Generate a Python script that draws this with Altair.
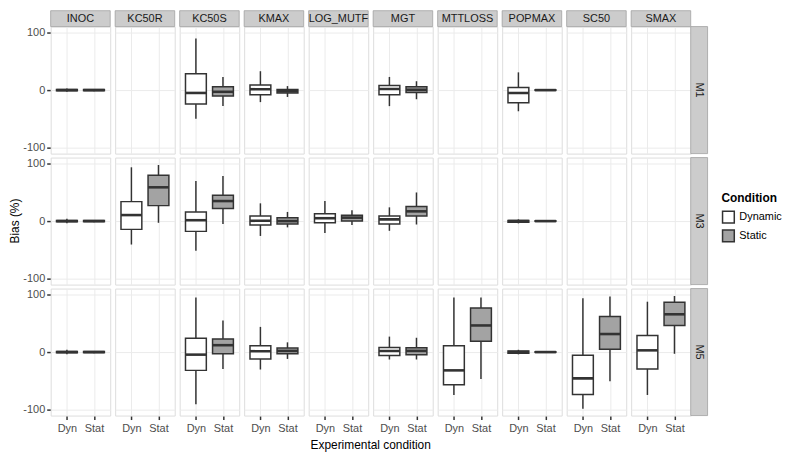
import altair as alt
import pandas as pd

variables = ["INOC", "KC50R", "KC50S", "KMAX", "LOG_MUTF", "MGT", "MTTLOSS", "POPMAX", "SC50", "SMAX"]
models = ["M1", "M3", "M5"]
conditions = ["Dynamic", "Static"]
tick_labels = ["Dyn", "Stat"]
x_title = "Experimental condition"
y_title = "Bias (%)"

box_model = (["M1"] * 10) + (["M3"] * 14) + (["M5"] * 16)
box_var = [
    "INOC", "INOC", "KC50S", "KC50S", "KMAX", "KMAX", "MGT", "MGT", "POPMAX", "POPMAX",
    "INOC", "INOC", "KC50R", "KC50R", "KC50S", "KC50S", "KMAX", "KMAX", "LOG_MUTF", "LOG_MUTF",
    "MGT", "MGT", "POPMAX", "POPMAX",
    "INOC", "INOC", "KC50S", "KC50S", "KMAX", "KMAX", "MGT", "MGT", "MTTLOSS", "MTTLOSS",
    "POPMAX", "POPMAX", "SC50", "SC50", "SMAX", "SMAX",
]
box_cond = ["Dynamic", "Static"] * 20
whisker_lo = [-3, -2, -50, -28, -21, -12, -28, -16, -37, -1,
              -4, -2, -41, -3, -52, -5, -26, -11, -21, -7, -17, -6, -4, -1,
              -4, -2, -91, -29.5, -30.5, -12, -13, -13, -75, -47, -4, -1, -99, -51, -75, -3]
box_q1 = [-1, -1, -24.5, -10.5, -8, -5, -8, -4, -22, -0.5,
          -1, -1, -14.5, 27, -18, 22, -7, -5, -3, 0, -5, 9, -2, -0.5,
          -1, -1, -32, -3, -12, -3, -6, -4.5, -57, 19, -2, -0.5, -74, 5, -29.5, 46.5]
box_med = [0, 0, -5, -3, 1.5, -2, 2, 0.5, -5, 0,
           0, 0, 10.5, 59, 1.5, 35, 0.5, 0, 5, 6, 3, 17, 0, 0,
           0, 0, -4.5, 12, 1.5, 2, 2, 2, -32, 46.5, 0, 0, -46, 31.5, 3, 66]
box_q3 = [1, 1, 28.5, 6, 9, 1, 8, 6, 4.5, 0.5,
          1, 1, 34, 80, 16, 45, 9, 6, 13, 10, 9, 25.5, 1, 0.5,
          1, 1, 24, 23, 11, 7, 8, 7.5, 11, 77, 2, 0.5, -5.5, 62, 29, 87]
whisker_hi = [3, 2, 90, 23, 33, 7, 23, 15.5, 31, 1,
              4, 2, 94, 98, 70, 79, 31, 16, 35, 19, 24, 50, 3, 1,
              4, 2, 95.5, 55, 44, 17, 27, 25, 95.5, 95.5, 4, 1, 94, 97, 88, 98]

W, H = 60, 128
STRIP = 16
COL_GAP = 5
ROW_GAP = 4
FONT = "Liberation Sans"

rows = []
for m, v, c, lo, q1, md, q3, hi in zip(box_model, box_var, box_cond, whisker_lo,
                                       box_q1, box_med, box_q3, whisker_hi):
    rows.append(dict(kind="box", model=m, var=v, cond=c,
                     pos=conditions.index(c) + 1, lo=lo, q1=q1, med=md, q3=q3, hi=hi))
for m in models:
    for v in variables:
        rows.append(dict(kind="cell", model=m, var=v))
for v in variables:
    rows.append(dict(kind="cstrip", model=models[0], var=v))
for m in models:
    rows.append(dict(kind="rstrip", model=m, var=variables[-1]))
rows.append(dict(kind="ytitle", model=models[1], var=variables[0], label=y_title))
rows.append(dict(kind="xtitle", model=models[2], var=variables[4], label=x_title))
df = pd.DataFrame(rows)

major = "datum.value % 50 === 0"
xscale = alt.Scale(domain=[0.4, 2.6], nice=False, zero=False, padding=0)
yscale = alt.Scale(domain=[-111, 111], nice=False, zero=False, padding=0)

xaxis = alt.Axis(
    values=[1, 2],
    labelExpr="datum.value == 1 ? '" + tick_labels[0] + "' : '" + tick_labels[1] + "'",
    title=None, domain=False, tickColor="#333333", tickSize=4,
    tickWidth=1.5, labelColor="#4D4D4D", labelFontSize=11, gridColor="#EBEBEB",
    labelPadding=3, labelFont=FONT,
)
yaxis = alt.Axis(
    values=[-100, -75, -50, -25, 0, 25, 50, 75, 100],
    labelExpr=major + " ? '' + datum.value : ''",
    title=None, domain=False, tickColor="#333333", tickSize=4, tickWidth=1.5,
    tickOpacity={"condition": {"test": major, "value": 1}, "value": 0},
    gridColor={"condition": {"test": major, "value": "#EBEBEB"}, "value": "#F7F7F7"},
    labelColor="#4D4D4D", labelFontSize=11, labelPadding=2, labelFont=FONT, minExtent=0,
)

base = alt.Chart()
boxes = base.transform_filter("datum.kind == 'box'")

whisk = boxes.mark_rule(color="#333333", strokeWidth=1.5).encode(
    x=alt.X("pos:Q", scale=xscale, axis=xaxis),
    y=alt.Y("lo:Q", scale=yscale, axis=yaxis),
    y2="hi:Q",
)
box = boxes.mark_bar(size=21, stroke="#333333", strokeWidth=1.5, opacity=1).encode(
    x="pos:Q",
    y="q1:Q",
    y2="q3:Q",
    fill=alt.Fill(
        "cond:N",
        scale=alt.Scale(domain=conditions, range=["#FFFFFF", "#A3A3A3"]),
        legend=alt.Legend(
            title="Condition", titleFontWeight="bold", titleFontSize=12, labelFontSize=11,
            symbolType="square", symbolSize=140, symbolStrokeColor="#333333",
            symbolStrokeWidth=1.5, labelColor="#000000", titleColor="#000000",
            orient="none", legendX=676, legendY=168, rowPadding=1, titlePadding=5,
            labelOffset=4, labelFont=FONT, titleFont=FONT,
        ),
    ),
)
med = boxes.mark_tick(orient="horizontal", size=21, thickness=2.6, color="#333333", opacity=1).encode(
    x="pos:Q",
    y="med:Q",
)

cs = base.transform_filter("datum.kind == 'cstrip'")
cs_rect = cs.mark_rect(fill="#CCCCCC", stroke="#A0A0A0", strokeWidth=0.8).encode(
    x=alt.value(0), x2=alt.value(W), y=alt.value(-STRIP), y2=alt.value(0)
)
cs_text = cs.mark_text(fontSize=11, color="#1A1A1A", baseline="middle", font=FONT).encode(
    text="var:N", x=alt.value(W / 2), y=alt.value(-STRIP / 2)
)
rs = base.transform_filter("datum.kind == 'rstrip'")
rs_rect = rs.mark_rect(fill="#CCCCCC", stroke="#A0A0A0", strokeWidth=0.8).encode(
    x=alt.value(W), x2=alt.value(W + 17), y=alt.value(0), y2=alt.value(H)
)
rs_text = rs.mark_text(fontSize=11, color="#1A1A1A", baseline="middle", angle=90,
                       font=FONT).encode(
    text="model:N", x=alt.value(W + 8.5), y=alt.value(H / 2)
)
yt = base.transform_filter("datum.kind == 'ytitle'").mark_text(
    fontSize=12, color="#000000", baseline="middle", angle=270, font=FONT
).encode(text="label:N", x=alt.value(-36), y=alt.value(H / 2))
xt = base.transform_filter("datum.kind == 'xtitle'").mark_text(
    fontSize=12, color="#000000", baseline="middle", font=FONT
).encode(text="label:N", x=alt.value(W + COL_GAP / 2), y=alt.value(H + 30))

layered = alt.layer(whisk, box, med, cs_rect, cs_text, rs_rect, rs_text, yt, xt,
                    data=df).properties(width=W, height=H)

chart = layered.facet(
    row=alt.Row("model:N", sort=models, title=None,
                header=alt.Header(labels=False, labelPadding=0, titlePadding=0)),
    column=alt.Column("var:N", sort=variables, title=None,
                      header=alt.Header(labels=False, labelPadding=0, titlePadding=0)),
    spacing={"row": ROW_GAP, "column": COL_GAP},
    bounds="flush",
).properties(
    padding={"left": 0, "top": 0, "right": 0, "bottom": 0},
).configure_view(
    stroke="#8F8F8F", strokeWidth=1, fill="#FFFFFF"
).configure(background="#FFFFFF")

chart.save("out.html", embed_options={"renderer": "svg", "actions": False})
